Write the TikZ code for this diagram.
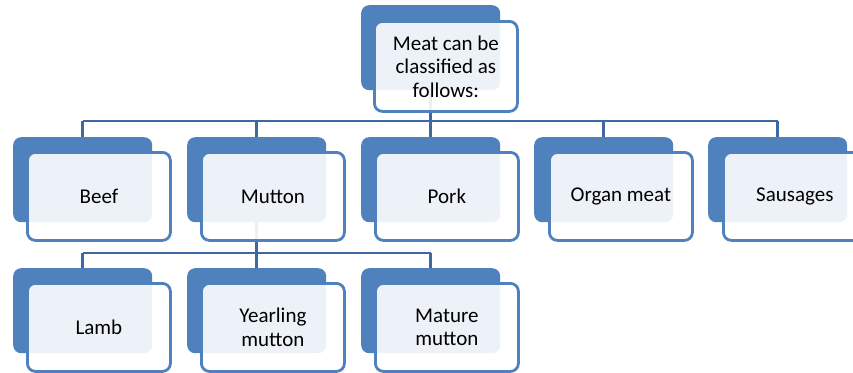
\documentclass[tikz,border=0pt]{standalone}
\usepackage{fontspec}
\setmainfont{Carlito}
\definecolor{sablue}{RGB}{79,129,189}
\definecolor{lineblue}{RGB}{62,104,164}
\tikzset{
  backbox/.style={fill=sablue, rounded corners=8pt, minimum width=139pt, minimum height=85pt, anchor=north west, inner sep=0pt, draw=none},
  frontbox/.style={fill=white, fill opacity=0.9, text opacity=1, draw=sablue, draw opacity=1, line width=2.8pt, rounded corners=8pt, minimum width=143pt, minimum height=88pt, anchor=north west, inner sep=2pt, align=center, text=black, font=\fontsize{21}{23.5}\selectfont},
  conn/.style={draw=lineblue, line width=2.5pt}
}
\begin{document}
\begin{tikzpicture}[x=1pt,y=-1pt]
\useasboundingbox (0,0) rectangle (853,372);
\clip (0,0) rectangle (853,372);
% back boxes
\node[backbox] (topb) at (361,5) {};
\node[backbox] (b1) at (13,137) {};
\node[backbox] (b2) at (187,137) {};
\node[backbox] (b3) at (361,137) {};
\node[backbox] (b4) at (534,137) {};
\node[backbox] (b5) at (708,137) {};
\node[backbox] (c1) at (13,268) {};
\node[backbox] (c2) at (187,268) {};
\node[backbox] (c3) at (361,268) {};
% connectors
\coordinate (h1) at (430,121);
\coordinate (h2) at (256,253);
\draw[conn] (topb.south) -- (topb.south |- h1);
\draw[conn] (b1.north |- h1) -- (b5.north |- h1);
\foreach \n in {b1,b2,b3,b4,b5} \draw[conn] (\n.north |- h1) -- (\n.north);
\draw[conn] (b2.south) -- (b2.south |- h2);
\draw[conn] (c1.north |- h2) -- (c3.north |- h2);
\foreach \n in {c1,c2,c3} \draw[conn] (\n.north |- h2) -- (\n.north);
% front boxes
\node[frontbox, minimum height=90pt] (topf) at (373,20) {Meat can be\\classified as\\follows:};
\node[frontbox] (f1) at (26,151) {Beef};
\node[frontbox] (f2) at (200,151) {Mutton};
\node[frontbox] (f3) at (374,151) {Pork};
\node[frontbox] (f4) at (548,151) {Organ meat};
\node[frontbox] (f5) at (722,151) {Sausages};
\node[frontbox] (g1) at (26,282) {Lamb};
\node[frontbox] (g2) at (200,282) {Yearling\\mutton};
\node[frontbox] (g3) at (374,282) {Mature\\mutton};
\end{tikzpicture}
\end{document}
